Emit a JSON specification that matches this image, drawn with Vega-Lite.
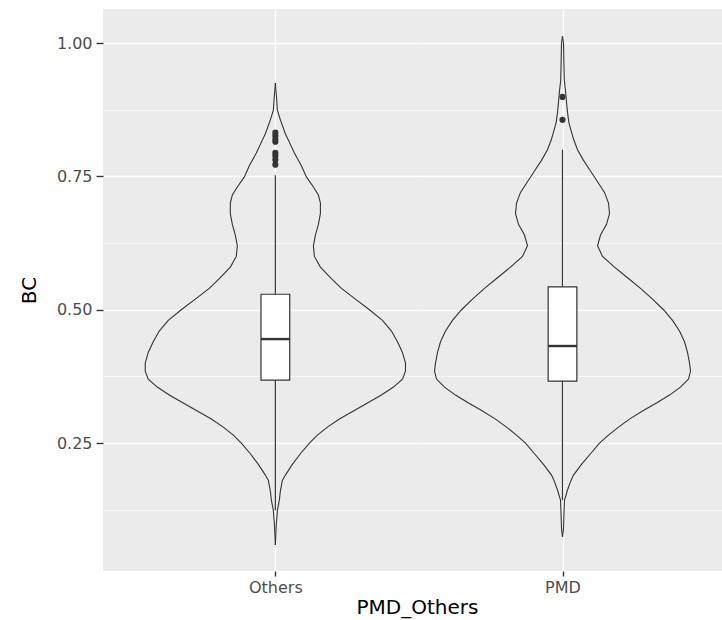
{
  "$schema": "https://vega.github.io/schema/vega-lite/v6.json",
  "background": "white",
  "padding": {"left": 19, "top": 9, "right": 0, "bottom": 12},
  "bounds": "flush",
  "config": {
    "view": {"fill": "#EBEBEB", "stroke": null},
    "axis": {
      "labelFont": "DejaVu Sans", "labelFontSize": 16, "labelColor": "#4D4D4D",
      "titleFont": "DejaVu Sans", "titleFontSize": 20, "titleColor": "#000000", "titleFontWeight": "normal",
      "domain": false, "tickColor": "#333333", "gridColor": "#FFFFFF"
    }
  },
  "datasets": {
    "violin": [
      {"group": "Others", "BC": 0.925, "w": 0}, {"group": "Others", "BC": 0.91, "w": 0.0021}, {"group": "Others", "BC": 0.897, "w": 0.0042},
      {"group": "Others", "BC": 0.874, "w": 0.007}, {"group": "Others", "BC": 0.856, "w": 0.0174}, {"group": "Others", "BC": 0.83, "w": 0.0348},
      {"group": "Others", "BC": 0.81, "w": 0.0523}, {"group": "Others", "BC": 0.794, "w": 0.0662}, {"group": "Others", "BC": 0.77, "w": 0.0906},
      {"group": "Others", "BC": 0.749, "w": 0.108}, {"group": "Others", "BC": 0.73, "w": 0.1324}, {"group": "Others", "BC": 0.715, "w": 0.1498},
      {"group": "Others", "BC": 0.70, "w": 0.1568}, {"group": "Others", "BC": 0.68, "w": 0.1568}, {"group": "Others", "BC": 0.66, "w": 0.1498},
      {"group": "Others", "BC": 0.64, "w": 0.1394}, {"group": "Others", "BC": 0.62, "w": 0.1324}, {"group": "Others", "BC": 0.60, "w": 0.1359},
      {"group": "Others", "BC": 0.58, "w": 0.1568}, {"group": "Others", "BC": 0.56, "w": 0.1916}, {"group": "Others", "BC": 0.54, "w": 0.23},
      {"group": "Others", "BC": 0.52, "w": 0.2787}, {"group": "Others", "BC": 0.50, "w": 0.3275}, {"group": "Others", "BC": 0.48, "w": 0.3728},
      {"group": "Others", "BC": 0.46, "w": 0.4042}, {"group": "Others", "BC": 0.44, "w": 0.4251}, {"group": "Others", "BC": 0.42, "w": 0.4425},
      {"group": "Others", "BC": 0.40, "w": 0.453}, {"group": "Others", "BC": 0.385, "w": 0.453}, {"group": "Others", "BC": 0.37, "w": 0.4425},
      {"group": "Others", "BC": 0.355, "w": 0.4111}, {"group": "Others", "BC": 0.34, "w": 0.3693}, {"group": "Others", "BC": 0.325, "w": 0.3206},
      {"group": "Others", "BC": 0.31, "w": 0.2718}, {"group": "Others", "BC": 0.295, "w": 0.223}, {"group": "Others", "BC": 0.28, "w": 0.1812},
      {"group": "Others", "BC": 0.265, "w": 0.1463}, {"group": "Others", "BC": 0.25, "w": 0.1185}, {"group": "Others", "BC": 0.23, "w": 0.0871},
      {"group": "Others", "BC": 0.21, "w": 0.0592}, {"group": "Others", "BC": 0.19, "w": 0.0348}, {"group": "Others", "BC": 0.18, "w": 0.0244},
      {"group": "Others", "BC": 0.16, "w": 0.0174}, {"group": "Others", "BC": 0.143, "w": 0.0139}, {"group": "Others", "BC": 0.124, "w": 0.007},
      {"group": "Others", "BC": 0.11, "w": 0.0052}, {"group": "Others", "BC": 0.10, "w": 0.0035}, {"group": "Others", "BC": 0.08, "w": 0.0017},
      {"group": "Others", "BC": 0.059, "w": 0},
      {"group": "PMD", "BC": 1.013, "w": 0}, {"group": "PMD", "BC": 1.0, "w": 0.0035}, {"group": "PMD", "BC": 0.96, "w": 0.0049},
      {"group": "PMD", "BC": 0.93, "w": 0.0063}, {"group": "PMD", "BC": 0.91, "w": 0.0105}, {"group": "PMD", "BC": 0.89, "w": 0.0139},
      {"group": "PMD", "BC": 0.87, "w": 0.0174}, {"group": "PMD", "BC": 0.85, "w": 0.0226}, {"group": "PMD", "BC": 0.82, "w": 0.0383},
      {"group": "PMD", "BC": 0.80, "w": 0.0523}, {"group": "PMD", "BC": 0.78, "w": 0.0732}, {"group": "PMD", "BC": 0.76, "w": 0.0976},
      {"group": "PMD", "BC": 0.74, "w": 0.122}, {"group": "PMD", "BC": 0.72, "w": 0.1463}, {"group": "PMD", "BC": 0.70, "w": 0.1603},
      {"group": "PMD", "BC": 0.68, "w": 0.1638}, {"group": "PMD", "BC": 0.66, "w": 0.1533}, {"group": "PMD", "BC": 0.64, "w": 0.1324},
      {"group": "PMD", "BC": 0.62, "w": 0.122}, {"group": "PMD", "BC": 0.60, "w": 0.1394}, {"group": "PMD", "BC": 0.58, "w": 0.1812},
      {"group": "PMD", "BC": 0.56, "w": 0.2265}, {"group": "PMD", "BC": 0.54, "w": 0.2718}, {"group": "PMD", "BC": 0.52, "w": 0.3136},
      {"group": "PMD", "BC": 0.50, "w": 0.3519}, {"group": "PMD", "BC": 0.48, "w": 0.3833}, {"group": "PMD", "BC": 0.46, "w": 0.4077},
      {"group": "PMD", "BC": 0.44, "w": 0.4251}, {"group": "PMD", "BC": 0.42, "w": 0.4355}, {"group": "PMD", "BC": 0.40, "w": 0.4425},
      {"group": "PMD", "BC": 0.385, "w": 0.446}, {"group": "PMD", "BC": 0.37, "w": 0.439}, {"group": "PMD", "BC": 0.355, "w": 0.4111},
      {"group": "PMD", "BC": 0.34, "w": 0.3728}, {"group": "PMD", "BC": 0.325, "w": 0.3275}, {"group": "PMD", "BC": 0.31, "w": 0.2787},
      {"group": "PMD", "BC": 0.295, "w": 0.2334}, {"group": "PMD", "BC": 0.28, "w": 0.1951}, {"group": "PMD", "BC": 0.265, "w": 0.1603},
      {"group": "PMD", "BC": 0.25, "w": 0.1289}, {"group": "PMD", "BC": 0.23, "w": 0.0976}, {"group": "PMD", "BC": 0.21, "w": 0.0662},
      {"group": "PMD", "BC": 0.19, "w": 0.0383}, {"group": "PMD", "BC": 0.18, "w": 0.0296}, {"group": "PMD", "BC": 0.162, "w": 0.0174},
      {"group": "PMD", "BC": 0.143, "w": 0.007}, {"group": "PMD", "BC": 0.12, "w": 0.0052}, {"group": "PMD", "BC": 0.09, "w": 0.0035},
      {"group": "PMD", "BC": 0.074, "w": 0}
    ],
    "box": [
      {"group": "Others", "lower": 0.124, "q1": 0.368, "median": 0.445, "q3": 0.529, "upper": 0.752},
      {"group": "PMD", "lower": 0.143, "q1": 0.366, "median": 0.432, "q3": 0.543, "upper": 0.80}
    ],
    "outliers": [
      {"group": "Others", "BC": 0.832}, {"group": "Others", "BC": 0.826}, {"group": "Others", "BC": 0.82}, {"group": "Others", "BC": 0.815},
      {"group": "Others", "BC": 0.794}, {"group": "Others", "BC": 0.788}, {"group": "Others", "BC": 0.781}, {"group": "Others", "BC": 0.772},
      {"group": "PMD", "BC": 0.899}, {"group": "PMD", "BC": 0.856}
    ]
  },
  "spacing": 0,
  "resolve": {"scale": {"y": "independent", "x": "independent"}, "axis": {"y": "independent", "x": "independent"}},
  "hconcat": [
    {
      "width": 316, "height": 562,
      "resolve": {"scale": {"x": "independent"}, "axis": {"x": "independent"}},
      "layer": [
        {
          "data": {"name": "violin"}, "transform": [{"filter": "datum.group === 'Others'"}],
          "mark": {"type": "area", "orient": "horizontal", "fill": "white"},
          "encoding": {
            "y": {"field": "BC", "type": "quantitative", "title": "BC", "scale": {"domain": [0.0102, 1.0638], "nice": false, "zero": false},
              "axis": {"title": "BC", "titleX": -74, "titleBaseline": "middle", "values": [0.125, 0.25, 0.375, 0.5, 0.625, 0.75, 0.875, 1.0],
                "labelExpr": "round(datum.value*8) % 2 === 0 ? format(datum.value, '.2f') : ''",
                "tickSize": 7, "tickWidth": 1.4, "labelPadding": 4,
                "tickOpacity": {"condition": {"test": "round(datum.value*8) % 2 === 0", "value": 1}, "value": 0},
                "gridWidth": {"condition": {"test": "round(datum.value*8) % 2 === 0", "value": 1.4}, "value": 0.7}}},
            "x": {"field": "w", "type": "quantitative", "scale": {"domain": [-0.6, 0.5], "nice": false, "zero": false}, "axis": null},
            "order": {"field": "BC", "type": "quantitative"}
          }
        },
        {
          "data": {"name": "violin"}, "transform": [{"filter": "datum.group === 'Others'"}],
          "mark": {"type": "area", "orient": "horizontal", "fill": "white"},
          "encoding": {
            "y": {"field": "BC", "type": "quantitative", "title": "BC", "scale": {"domain": [0.0102, 1.0638], "nice": false, "zero": false}},
            "x": {"field": "w", "type": "quantitative", "scale": {"domain": [-0.5, 0.6], "reverse": true, "nice": false, "zero": false}, "axis": null},
            "order": {"field": "BC", "type": "quantitative"}
          }
        },
        {
          "data": {"name": "violin"}, "transform": [{"filter": "datum.group === 'Others'"}],
          "mark": {"type": "line", "stroke": "#333333", "strokeWidth": 1.1},
          "encoding": {
            "y": {"field": "BC", "type": "quantitative", "title": "BC", "scale": {"domain": [0.0102, 1.0638], "nice": false, "zero": false}},
            "x": {"field": "w", "type": "quantitative", "scale": {"domain": [-0.6, 0.5], "nice": false, "zero": false}, "axis": null},
            "order": {"field": "BC", "type": "quantitative"}
          }
        },
        {
          "data": {"name": "violin"}, "transform": [{"filter": "datum.group === 'Others'"}],
          "mark": {"type": "line", "stroke": "#333333", "strokeWidth": 1.1},
          "encoding": {
            "y": {"field": "BC", "type": "quantitative", "title": "BC", "scale": {"domain": [0.0102, 1.0638], "nice": false, "zero": false}},
            "x": {"field": "w", "type": "quantitative", "scale": {"domain": [-0.5, 0.6], "reverse": true, "nice": false, "zero": false}, "axis": null},
            "order": {"field": "BC", "type": "quantitative"}
          }
        },
        {
          "data": {"name": "box"}, "transform": [{"filter": "datum.group === 'Others'"}],
          "mark": {"type": "rule", "stroke": "#333333", "strokeWidth": 1.2},
          "encoding": {
            "x": {"field": "group", "type": "nominal", "scale": {"type": "point", "align": 0.5454545},
              "axis": {"title": "PMD_Others", "titleX": 314, "titleAlign": "center", "labelAngle": 0, "grid": true, "gridWidth": 1.4,
                "tickSize": 5, "tickWidth": 1.4, "labelPadding": 3, "titlePadding": 2}},
            "y": {"field": "lower", "type": "quantitative", "title": "BC", "scale": {"domain": [0.0102, 1.0638], "nice": false, "zero": false}},
            "y2": {"field": "upper"}
          }
        },
        {
          "data": {"name": "box"}, "transform": [{"filter": "datum.group === 'Others'"}],
          "mark": {"type": "rect", "fill": "white", "stroke": "#333333", "strokeWidth": 1.2},
          "encoding": {
            "x": {"datum": -0.05, "type": "quantitative", "scale": {"domain": [-0.6, 0.5], "nice": false, "zero": false}, "axis": null},
            "x2": {"datum": 0.05},
            "y": {"field": "q1", "type": "quantitative", "title": "BC", "scale": {"domain": [0.0102, 1.0638], "nice": false, "zero": false}},
            "y2": {"field": "q3"}
          }
        },
        {
          "data": {"name": "box"}, "transform": [{"filter": "datum.group === 'Others'"}],
          "mark": {"type": "rule", "stroke": "#333333", "strokeWidth": 2.4},
          "encoding": {
            "x": {"datum": -0.05, "type": "quantitative", "scale": {"domain": [-0.6, 0.5], "nice": false, "zero": false}, "axis": null},
            "x2": {"datum": 0.05},
            "y": {"field": "median", "type": "quantitative", "title": "BC", "scale": {"domain": [0.0102, 1.0638], "nice": false, "zero": false}}
          }
        },
        {
          "data": {"name": "outliers"}, "transform": [{"filter": "datum.group === 'Others'"}],
          "mark": {"type": "point", "shape": "circle", "filled": true, "color": "#333333", "opacity": 1, "size": 38},
          "encoding": {
            "x": {"datum": 0, "type": "quantitative", "scale": {"domain": [-0.6, 0.5], "nice": false, "zero": false}, "axis": null},
            "y": {"field": "BC", "type": "quantitative", "title": "BC", "scale": {"domain": [0.0102, 1.0638], "nice": false, "zero": false}}
          }
        }
      ]
    },
    {
      "width": 303, "height": 562,
      "resolve": {"scale": {"x": "independent"}, "axis": {"x": "independent"}},
      "layer": [
        {
          "data": {"name": "violin"}, "transform": [{"filter": "datum.group === 'PMD'"}],
          "mark": {"type": "area", "orient": "horizontal", "fill": "white"},
          "encoding": {
            "y": {"field": "BC", "type": "quantitative", "title": null, "scale": {"domain": [0.0102, 1.0638], "nice": false, "zero": false},
              "axis": {"title": null, "labels": false, "ticks": false, "values": [0.125, 0.25, 0.375, 0.5, 0.625, 0.75, 0.875, 1.0],
                "gridWidth": {"condition": {"test": "round(datum.value*8) % 2 === 0", "value": 1.4}, "value": 0.7}}},
            "x": {"field": "w", "type": "quantitative", "scale": {"domain": [-0.5, 0.5557], "nice": false, "zero": false}, "axis": null},
            "order": {"field": "BC", "type": "quantitative"}
          }
        },
        {
          "data": {"name": "violin"}, "transform": [{"filter": "datum.group === 'PMD'"}],
          "mark": {"type": "area", "orient": "horizontal", "fill": "white"},
          "encoding": {
            "y": {"field": "BC", "type": "quantitative", "title": null, "scale": {"domain": [0.0102, 1.0638], "nice": false, "zero": false}},
            "x": {"field": "w", "type": "quantitative", "scale": {"domain": [-0.5557, 0.5], "reverse": true, "nice": false, "zero": false}, "axis": null},
            "order": {"field": "BC", "type": "quantitative"}
          }
        },
        {
          "data": {"name": "violin"}, "transform": [{"filter": "datum.group === 'PMD'"}],
          "mark": {"type": "line", "stroke": "#333333", "strokeWidth": 1.1},
          "encoding": {
            "y": {"field": "BC", "type": "quantitative", "title": null, "scale": {"domain": [0.0102, 1.0638], "nice": false, "zero": false}},
            "x": {"field": "w", "type": "quantitative", "scale": {"domain": [-0.5, 0.5557], "nice": false, "zero": false}, "axis": null},
            "order": {"field": "BC", "type": "quantitative"}
          }
        },
        {
          "data": {"name": "violin"}, "transform": [{"filter": "datum.group === 'PMD'"}],
          "mark": {"type": "line", "stroke": "#333333", "strokeWidth": 1.1},
          "encoding": {
            "y": {"field": "BC", "type": "quantitative", "title": null, "scale": {"domain": [0.0102, 1.0638], "nice": false, "zero": false}},
            "x": {"field": "w", "type": "quantitative", "scale": {"domain": [-0.5557, 0.5], "reverse": true, "nice": false, "zero": false}, "axis": null},
            "order": {"field": "BC", "type": "quantitative"}
          }
        },
        {
          "data": {"name": "box"}, "transform": [{"filter": "datum.group === 'PMD'"}],
          "mark": {"type": "rule", "stroke": "#333333", "strokeWidth": 1.2},
          "encoding": {
            "x": {"field": "group", "type": "nominal", "scale": {"type": "point", "align": 0.473619},
              "axis": {"title": null, "labelAngle": 0, "grid": true, "gridWidth": 1.4, "tickSize": 5, "tickWidth": 1.4, "labelPadding": 3}},
            "y": {"field": "lower", "type": "quantitative", "title": null, "scale": {"domain": [0.0102, 1.0638], "nice": false, "zero": false}},
            "y2": {"field": "upper"}
          }
        },
        {
          "data": {"name": "box"}, "transform": [{"filter": "datum.group === 'PMD'"}],
          "mark": {"type": "rect", "fill": "white", "stroke": "#333333", "strokeWidth": 1.2},
          "encoding": {
            "x": {"datum": -0.05, "type": "quantitative", "scale": {"domain": [-0.5, 0.5557], "nice": false, "zero": false}, "axis": null},
            "x2": {"datum": 0.05},
            "y": {"field": "q1", "type": "quantitative", "title": null, "scale": {"domain": [0.0102, 1.0638], "nice": false, "zero": false}},
            "y2": {"field": "q3"}
          }
        },
        {
          "data": {"name": "box"}, "transform": [{"filter": "datum.group === 'PMD'"}],
          "mark": {"type": "rule", "stroke": "#333333", "strokeWidth": 2.4},
          "encoding": {
            "x": {"datum": -0.05, "type": "quantitative", "scale": {"domain": [-0.5, 0.5557], "nice": false, "zero": false}, "axis": null},
            "x2": {"datum": 0.05},
            "y": {"field": "median", "type": "quantitative", "title": null, "scale": {"domain": [0.0102, 1.0638], "nice": false, "zero": false}}
          }
        },
        {
          "data": {"name": "outliers"}, "transform": [{"filter": "datum.group === 'PMD'"}],
          "mark": {"type": "point", "shape": "circle", "filled": true, "color": "#333333", "opacity": 1, "size": 38},
          "encoding": {
            "x": {"datum": 0, "type": "quantitative", "scale": {"domain": [-0.5, 0.5557], "nice": false, "zero": false}, "axis": null},
            "y": {"field": "BC", "type": "quantitative", "title": null, "scale": {"domain": [0.0102, 1.0638], "nice": false, "zero": false}}
          }
        }
      ]
    }
  ]
}
